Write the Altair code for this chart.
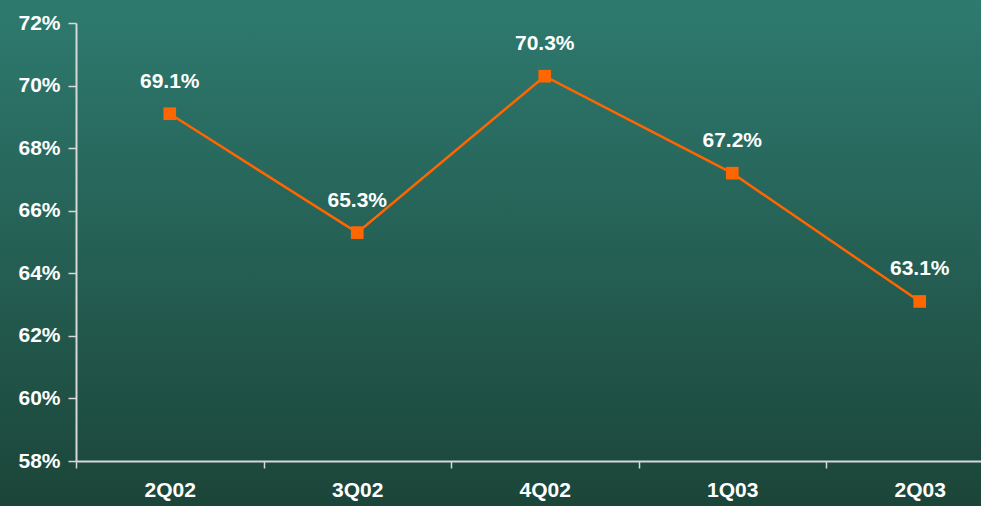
import altair as alt
import pandas as pd

quarters = ["2Q02", "3Q02", "4Q02", "1Q03", "2Q03"]
ratio = [0.691, 0.653, 0.703, 0.672, 0.631]
y_ticks = [0.58, 0.60, 0.62, 0.64, 0.66, 0.68, 0.70, 0.72]

df = pd.DataFrame({"q": quarters, "v": ratio})

W, H = 905, 438
PL, PT = 76, 23
FS = 21

bg = alt.Chart(alt.Data(values=[{}])).mark_rect(
    color=alt.LinearGradient(
        gradient="linear", x1=0, x2=0, y1=0, y2=1,
        stops=[alt.GradientStop(color="#2e7a6f", offset=0),
               alt.GradientStop(color="#1c4539", offset=1)],
    )
).encode(
    x=alt.value(-PL), x2=alt.value(W + 10),
    y=alt.value(-PT), y2=alt.value(506 - PT),
)

xenc = alt.X(
    "q:N", sort=quarters, bandPosition=0.5,
    scale=alt.Scale(type="band", paddingInner=0, paddingOuter=0, range=[0, 937.5]),
    axis=alt.Axis(title=None, labelAngle=0, tickBand="extent", tickSize=7,
                  labelPadding=11, labelFont="Liberation Sans", labelFontSize=FS,
                  labelFontWeight="bold", labelColor="white", zindex=1,
                  domainColor="#d8d8d8", tickColor="#d8d8d8", domainWidth=2, tickWidth=1.5),
)
yenc = alt.Y(
    "v:Q",
    scale=alt.Scale(domain=[0.58, 0.72], nice=False, zero=False),
    axis=alt.Axis(title=None, values=y_ticks, format=".0%", tickSize=8, labelPadding=8,
                  labelFont="Liberation Sans", labelFontSize=FS, labelFontWeight="bold",
                  labelColor="white", domainColor="#d8d8d8", tickColor="#d8d8d8",
                  domainWidth=2, tickWidth=1.5, grid=False, zindex=1),
)

base = alt.Chart(df).encode(x=xenc, y=yenc)
line = base.mark_line(color="#ff6600", strokeWidth=2.5)
pts = base.mark_point(shape="square", filled=True, size=160, color="#ff6600", opacity=1)
labels = base.mark_text(dy=-32, color="white", font="Liberation Sans", fontSize=FS,
                        fontWeight="bold").encode(text=alt.Text("v:Q", format=".1%"))

chart = alt.layer(bg, line, pts, labels).properties(
    width=W, height=H,
    autosize=alt.AutoSizeParams(type="none"),
    padding={"left": PL, "top": PT, "right": 0, "bottom": 506 - PT - H},
    background="#1f4d43",
).configure_view(stroke=None)

chart.save("out.html", embed_options={"renderer": "svg", "actions": False})
